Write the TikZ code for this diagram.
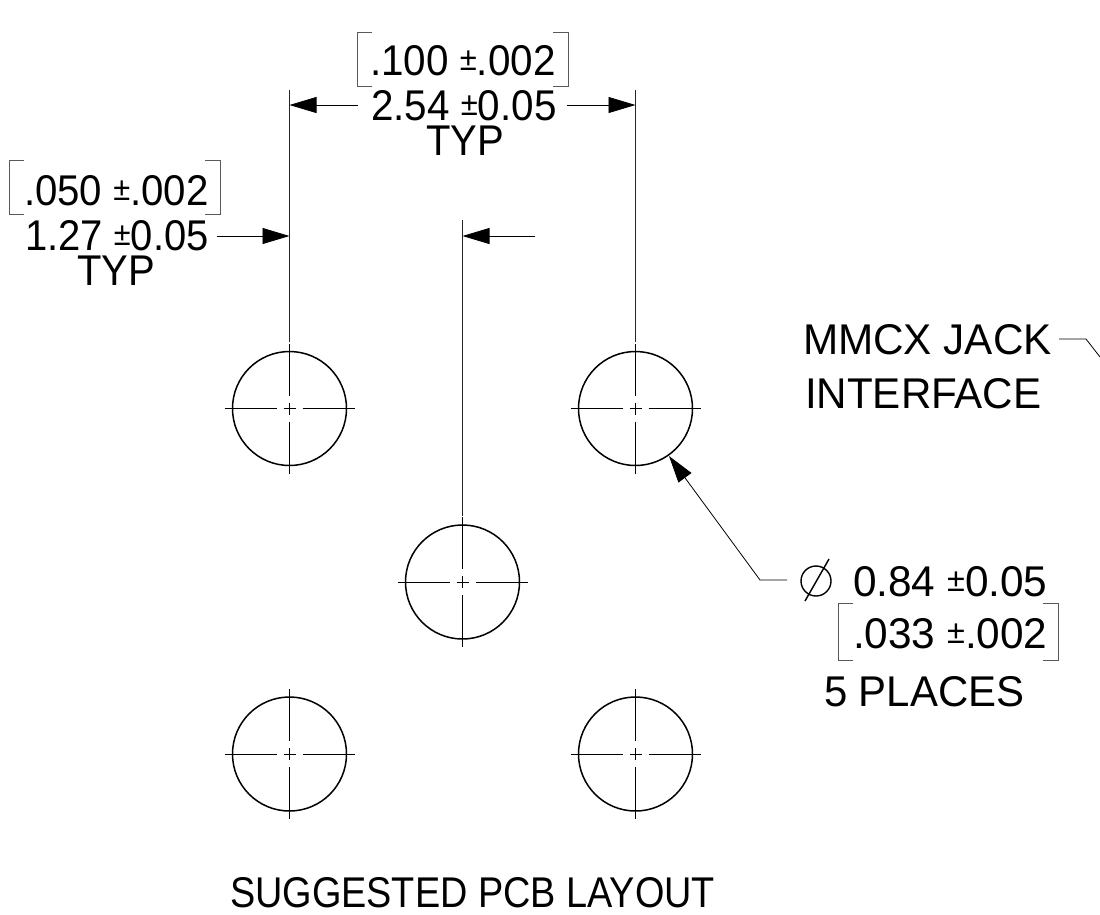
\documentclass[tikz,border=0pt]{standalone}
\usepackage{fontspec}
\setmainfont{Liberation Sans}
\usetikzlibrary{arrows.meta}
\newcommand{\pmsm}{\raisebox{0.1em}{\fontsize{33}{33}\selectfont ±}}
\newcommand{\sx}[2]{\scalebox{#1}[1]{#2}}
\tikzset{
  x=1pt,y=-1pt,
  lab/.style={anchor=base west,inner sep=0pt,outer sep=0pt,font=\fontsize{43}{43}\selectfont},
  thinl/.style={line width=0.8pt,black},
  brk/.style={line width=0.7pt,black!65},
  ext/.style={line width=0.9pt,black!85},
  dim/.style={line width=0.8pt,black,-{Triangle[length=27pt,width=16pt]}},
  hole/.style={circle,draw,line width=1.5pt,minimum size=114pt,inner sep=0pt},
  cl/.style={line width=0.8pt,black}
}
\begin{document}
\begin{tikzpicture}
\useasboundingbox (0,0) rectangle (1100,914);
% holes
\foreach \n/\cx/\cy in {a/289.5/408.5,b/635.5/408.5,c/462.5/582,d/289.5/754,e/635.5/754}{
  \node[hole] (\n) at (\cx,\cy) {};
  \draw[cl] (\cx-65,\cy) -- (\cx-13,\cy) (\cx-6,\cy) -- (\cx+6,\cy) (\cx+13,\cy) -- (\cx+65,\cy);
  \draw[cl] (\cx,\cy-65) -- (\cx,\cy-13) (\cx,\cy-6) -- (\cx,\cy+6) (\cx,\cy+13) -- (\cx,\cy+65);
}
% extension lines
\coordinate (e1t) at (289.5,90); \coordinate (e1b) at (289.5,342);
\coordinate (e2t) at (635.5,90); \coordinate (e2b) at (635.5,342);
\coordinate (e3t) at (462.5,220); \coordinate (e3b) at (462.5,516);
\draw[ext] (e1t)--(e1b) (e2t)--(e2b) (e3t)--(e3b);
% text
\node[lab] (t100) at (370,75) {\sx{0.94}{.100 \pmsm.002}};
\node[lab] (t254) at (371,120) {\sx{0.94}{2.54 \pmsm0.05}};
\node[lab] (ttyp1) at (426,155) {\sx{0.93}{TYP}};
\node[lab] (t050) at (24,205) {\sx{0.935}{.050 \pmsm.002}};
\node[lab] (t127) at (25,250) {\sx{0.93}{1.27 \pmsm0.05}};
\node[lab] (ttyp2) at (77,285) {\sx{0.93}{TYP}};
\node[lab] (tmm) at (803,354) {\sx{0.983}{MMCX JACK}};
\node[lab] (tint) at (805,408) {\sx{0.98}{INTERFACE}};
\node[lab] (t084) at (853,596) {\sx{0.985}{0.84 \pmsm0.05}};
\node[lab] (t033) at (853,648) {\sx{0.985}{.033 \pmsm.002}};
\node[lab] (t5) at (824,706) {\sx{0.975}{5 PLACES}};
\node[lab] (tsug) at (230,907) {\sx{0.88}{SUGGESTED PCB LAYOUT}};
% brackets
\draw[brk] (372,32)--(357,32)--(357,86)--(372,86);
\draw[brk] (553,32)--(568,32)--(568,86)--(553,86);
\draw[brk] (24,160)--(9,160)--(9,214)--(24,214);
\draw[brk] (205,160)--(220,160)--(220,214)--(205,214);
\draw[brk] (853,603)--(838,603)--(838,660)--(853,660);
\draw[brk] (1043,603)--(1058,603)--(1058,660)--(1043,660);
% dimension arrows
\coordinate (d1a) at (358,105); \coordinate (d1b) at (289.5,105);
\coordinate (d2a) at (567,105); \coordinate (d2b) at (635.5,105);
\coordinate (d3a) at (217,236); \coordinate (d3b) at (289.5,236);
\coordinate (d4a) at (535,236); \coordinate (d4b) at (462.5,236);
\draw[dim] (d1a)--(d1b);
\draw[dim] (d2a)--(d2b);
\draw[dim] (d3a)--(d3b);
\draw[dim] (d4a)--(d4b);
% leaders
\coordinate (l1) at (787,580); \coordinate (l2) at (760,580); \coordinate (l3) at (669,456);
\draw[dim] (l1)--(l2)--(l3);
\coordinate (m1) at (1059,339); \coordinate (m2) at (1086,339); \coordinate (m3) at (1100,357);
\draw[thinl] (m1)--(m2)--(m3);
% diameter symbol
\node[circle,draw,line width=1.4pt,minimum size=30pt,inner sep=0pt] (phi) at (816,581) {};
\coordinate (ph1) at (805,601); \coordinate (ph2) at (829,559);
\draw[line width=1.4pt] (ph1)--(ph2);
\end{tikzpicture}
\end{document}
